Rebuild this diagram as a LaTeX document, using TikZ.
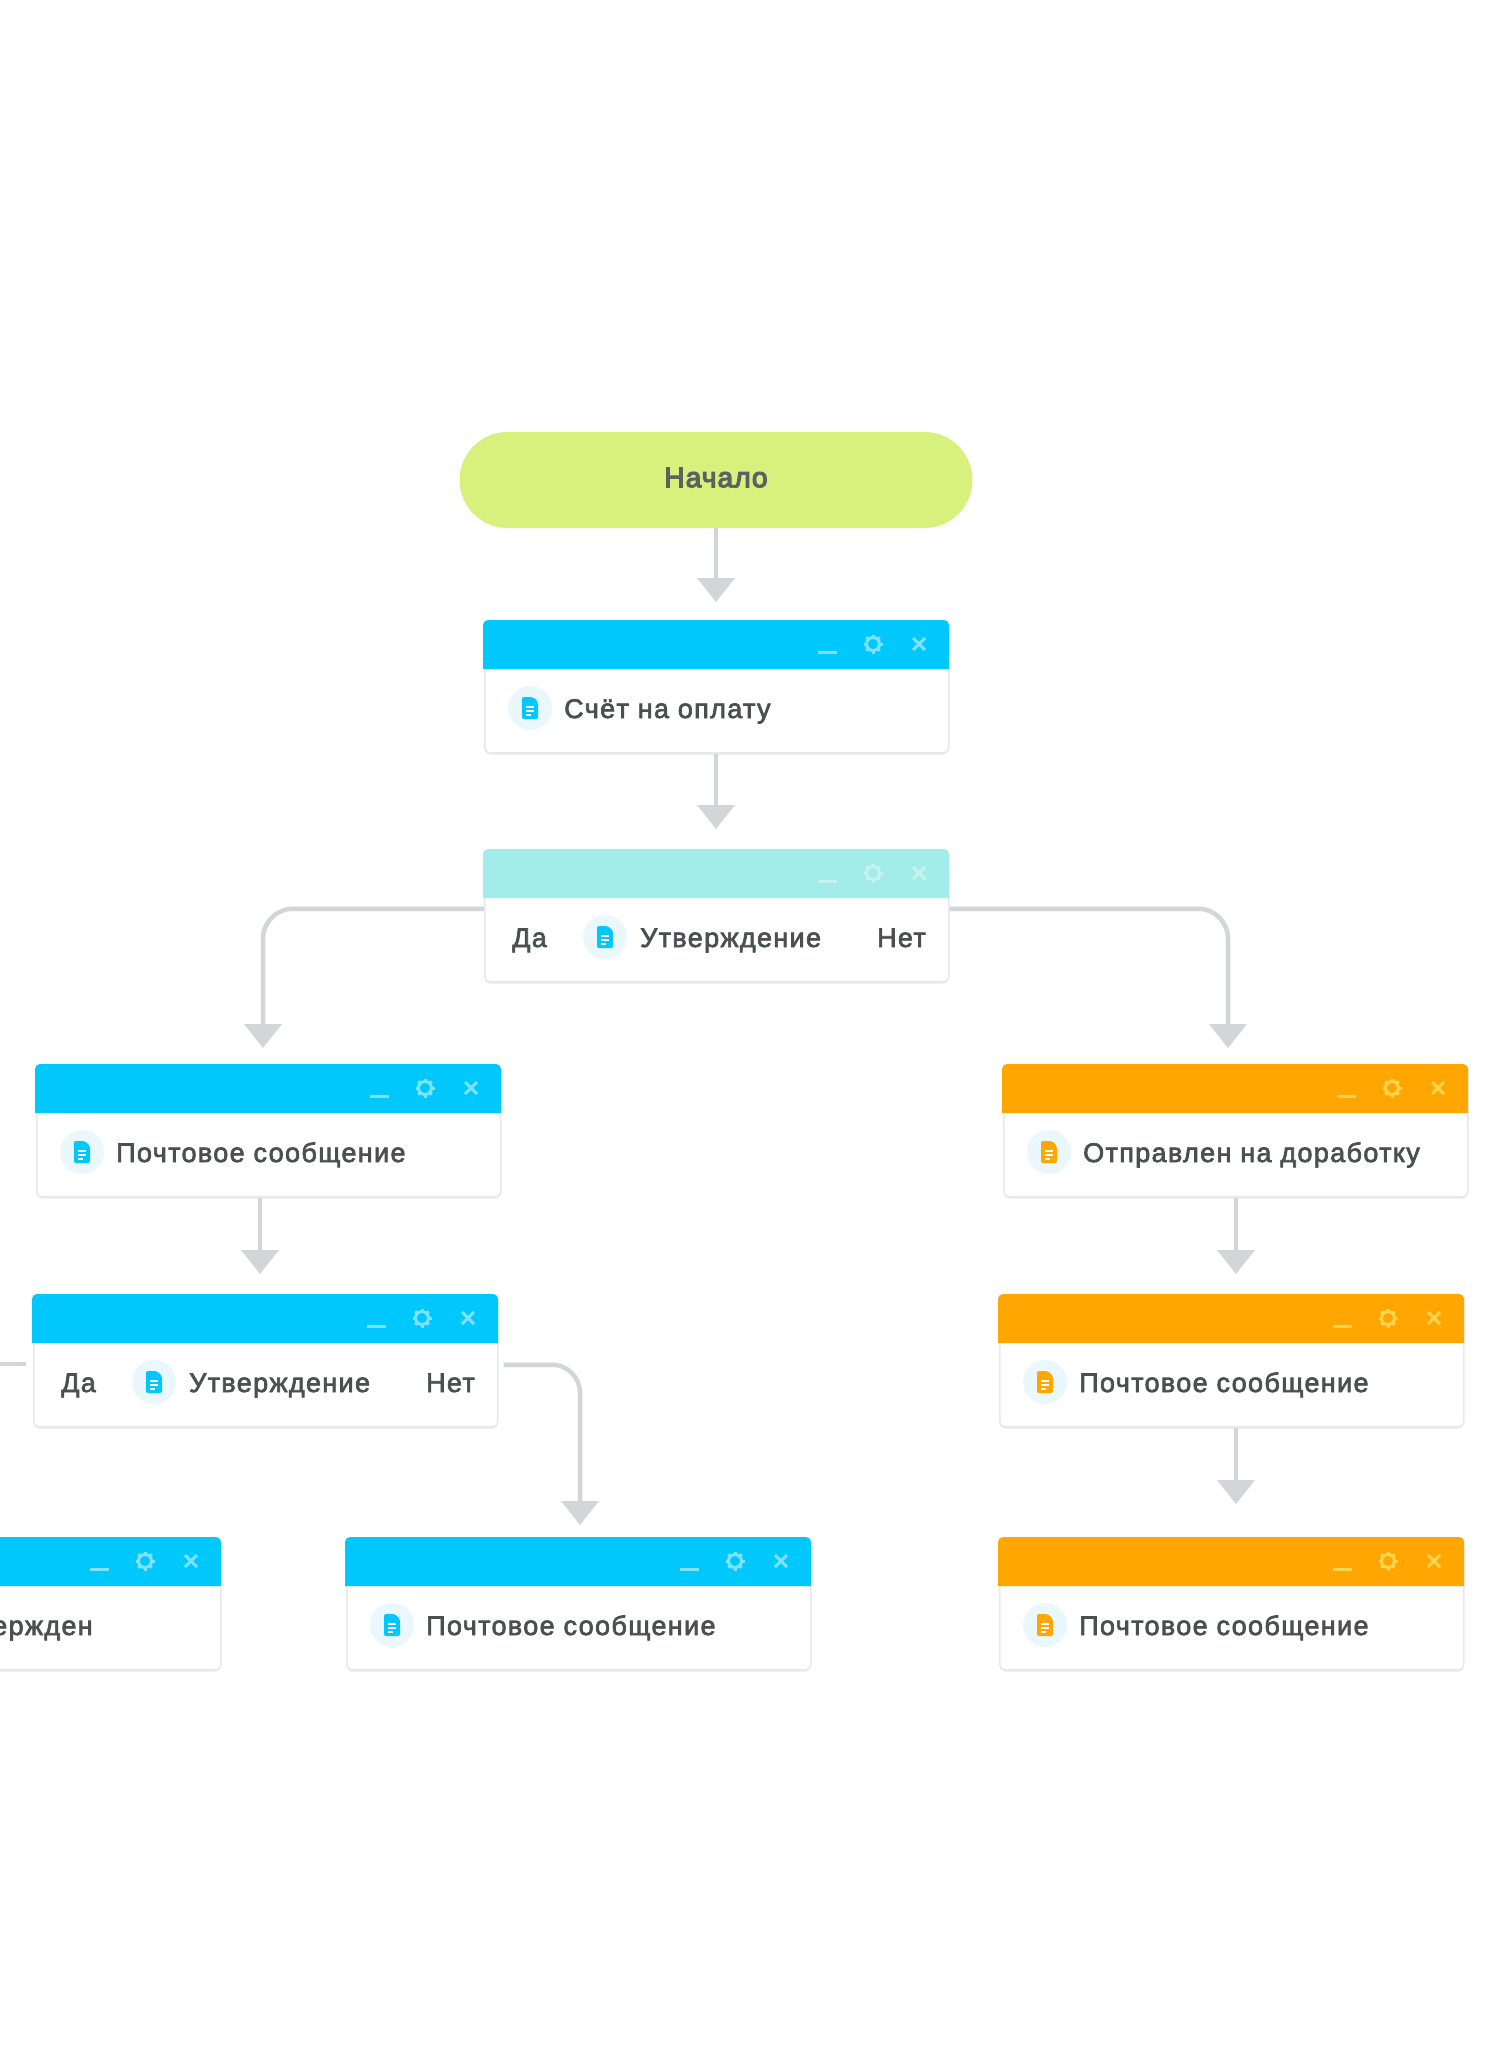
\documentclass[tikz,border=0pt]{standalone}
\usepackage{fontspec}
\newfontfamily\cardfont[FakeBold=2.5,LetterSpace=5]{Liberation Sans}
\newfontfamily\startfont[FakeBold=4.5,LetterSpace=4]{Liberation Sans}
\usetikzlibrary{arrows.meta, shadows}

\definecolor{skyhead}{HTML}{00C8FC}
\definecolor{skybtn}{HTML}{7FE2FD}
\definecolor{tealhead}{HTML}{A2ECE9}
\definecolor{tealbtn}{HTML}{C6F3F1}
\definecolor{amberhead}{HTML}{FFA602}
\definecolor{amberbtn}{HTML}{FFD54F}
\definecolor{startgreen}{HTML}{D7F17C}
\definecolor{linegray}{HTML}{D3D6D8}
\definecolor{edgegray}{HTML}{E6E9EB}
\definecolor{inkgray}{HTML}{4B4F50}
\definecolor{startink}{HTML}{5C6162}
\definecolor{iconbg}{HTML}{EAF8FD}

\tikzset{
	cardbody/.style={draw=edgegray, line width=1.5pt, fill=white, rounded corners=5pt, minimum width=464pt, minimum height=132pt, inner sep=0pt, anchor=north west, drop shadow={shadow xshift=0pt, shadow yshift=-2pt, opacity=0.12}},
	startbox/.style={fill=startgreen, rounded corners=48pt, minimum width=513pt, minimum height=96pt, inner sep=0pt, text depth=5pt, text=startink, font=\startfont\fontsize{28}{30}\selectfont},
	cardlabel/.style={text=inkgray, inner sep=0pt, anchor=base west, font=\cardfont\fontsize{27}{30}\selectfont},
	link/.style={draw=linegray, line width=4.5pt, -{Triangle[width=37pt,length=24pt]}},
	stub/.style={draw=linegray, line width=4.5pt}
}

% window card: name, x, y, header colour, button colour
\newcommand{\wincard}[5]{
	\begin{scope}[shift={(#2,#3)}]
		\node[cardbody] (#1) at (0,0) {};
		\fill[#4] (-1,49) {[rounded corners=5pt] -- (-1,0) -- (465,0)} -- (465,49) -- cycle;
		\draw[#5, line width=3pt] (334,32) -- (353,32);
		\draw[#5, line width=3pt] (389,24) circle (6.5);
		\foreach \a in {0,45,...,315}
			\draw[#5, line width=3pt] (389,24) ++(\a:6.5) -- ++(\a:3);
		\draw[#5, line width=3pt] (429,18) -- (441,30);
		\draw[#5, line width=3pt] (441,18) -- (429,30);
	\end{scope}
}

% document icon: x, y of its centre inside a card scope, colour
\newcommand{\docicon}[3]{
	\fill[iconbg] (#1,#2) circle (22);
	\fill[#3, rounded corners=2pt] (#1-8,#2-11) -- (#1+3,#2-11) -- (#1+8,#2-6) -- (#1+8,#2+11) -- (#1-8,#2+11) -- cycle;
	\draw[white, line width=1.2pt] (#1-4,#2-1) -- (#1+4,#2-1);
	\draw[white, line width=1.2pt] (#1-4,#2+3) -- (#1+4,#2+3);
	\draw[white, line width=1.2pt] (#1-4,#2+7) -- (#1+1,#2+7);
}

\begin{document}
\begin{tikzpicture}[x=1pt, y=-1pt]
	\path[use as bounding box, clip] (0,0) rectangle (1491,2060);
	\fill[white] (0,0) rectangle (1491,2060);

	\node[startbox] (start) at (716,480) {Начало};

	% middle column
	\wincard{invoice}{484}{620}{skyhead}{skybtn}
	\begin{scope}[shift={(484,620)}]
		\docicon{46}{88}{skyhead}
		\node[cardlabel] (invoicetext) at (80,98) {Счёт на оплату};
	\end{scope}

	\wincard{approve}{484}{849}{tealhead}{tealbtn}
	\begin{scope}[shift={(484,849)}]
		\node[cardlabel] (approveyes) at (28,98) {Да};
		\docicon{121}{88}{skyhead}
		\node[cardlabel] (approvetext) at (156,98) {Утверждение};
		\node[cardlabel, anchor=base east] (approveno) at (442,98) {Нет};
	\end{scope}

	% left column
	\wincard{mailleft}{36}{1064}{skyhead}{skybtn}
	\begin{scope}[shift={(36,1064)}]
		\docicon{46}{88}{skyhead}
		\node[cardlabel] (maillefttext) at (80,98) {Почтовое сообщение};
	\end{scope}

	\wincard{approvetwo}{33}{1294}{skyhead}{skybtn}
	\begin{scope}[shift={(33,1294)}]
		\node[cardlabel] (approvetwoyes) at (28,98) {Да};
		\docicon{121}{88}{skyhead}
		\node[cardlabel] (approvetwotext) at (156,98) {Утверждение};
		\node[cardlabel, anchor=base east] (approvetwono) at (442,98) {Нет};
	\end{scope}

	\wincard{cutoff}{-244}{1537}{skyhead}{skybtn}
	\node[cardlabel, anchor=base east] (cutofftext) at (93,1635) {ержден};

	\wincard{mailmid}{346}{1537}{skyhead}{skybtn}
	\begin{scope}[shift={(346,1537)}]
		\docicon{46}{88}{skyhead}
		\node[cardlabel] (mailmidtext) at (80,98) {Почтовое сообщение};
	\end{scope}

	% right column
	\wincard{rework}{1003}{1064}{amberhead}{amberbtn}
	\begin{scope}[shift={(1003,1064)}]
		\docicon{46}{88}{amberhead}
		\node[cardlabel] (reworktext) at (80,98) {Отправлен на доработку};
	\end{scope}

	\wincard{mailright}{999}{1294}{amberhead}{amberbtn}
	\begin{scope}[shift={(999,1294)}]
		\docicon{46}{88}{amberhead}
		\node[cardlabel] (mailrighttext) at (80,98) {Почтовое сообщение};
	\end{scope}

	\wincard{maillast}{999}{1537}{amberhead}{amberbtn}
	\begin{scope}[shift={(999,1537)}]
		\docicon{46}{88}{amberhead}
		\node[cardlabel] (maillasttext) at (80,98) {Почтовое сообщение};
	\end{scope}

	% free ends of the connectors
	\coordinate (tipinvoice) at (716,602);
	\coordinate (tipapprove) at (716,829);
	\coordinate (tipyes) at (263,1048);
	\coordinate (tipno) at (1228,1048);
	\coordinate (tipapprovetwo) at (260,1274);
	\coordinate (tipright) at (1236,1274);
	\coordinate (tiplast) at (1236,1504);
	\coordinate (tipmid) at (580,1525);
	\coordinate (stubleft) at (0,1364);
	\coordinate (stubright) at (26,1364);

	\draw[link] (start.south -| tipinvoice) -- (tipinvoice);
	\draw[link] (invoice.south -| tipapprove) -- (tipapprove);
	\draw[link, rounded corners=30pt] ([yshift=7pt]approve.west) -| (tipyes);
	\draw[link, rounded corners=30pt] ([yshift=7pt]approve.east) -| (tipno);
	\draw[link] (mailleft.south -| tipapprovetwo) -- (tipapprovetwo);
	\draw[link] (rework.south -| tipright) -- (tipright);
	\draw[link] (mailright.south -| tiplast) -- (tiplast);
	\draw[link, rounded corners=28pt] ([xshift=5pt, yshift=-4pt]approvetwo.east) -| (tipmid);
	\draw[stub] (stubleft) -- (stubright);
\end{tikzpicture}
\end{document}
